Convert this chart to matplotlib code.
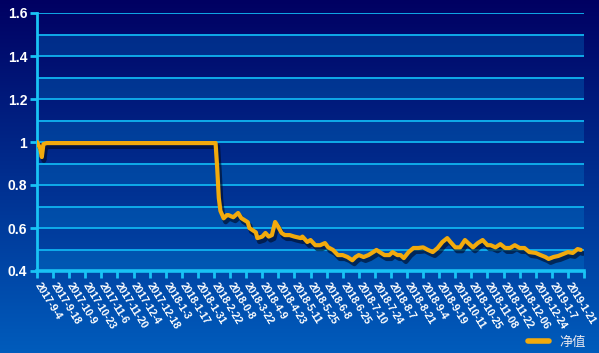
import numpy as np
import matplotlib
matplotlib.use("Agg")
import matplotlib.pyplot as plt
import matplotlib.patheffects as pe
from matplotlib.ticker import MultipleLocator, FuncFormatter, FixedLocator

# ---- data ----
day_idx = [0, 2, 3, 4, 6, 111, 112, 113, 114, 116, 118, 119, 122, 125, 127, 131, 132,
           136, 137, 140, 142, 144, 146, 148, 150, 152, 154, 157, 160, 164, 165, 168,
           170, 173, 176, 179, 181, 184, 187, 190, 193, 196, 198, 200, 203, 206, 209,
           211, 213, 216, 219, 221, 224, 226, 228, 231, 234, 237, 240, 243, 246, 249,
           252, 255, 257, 260, 263, 266, 268, 271, 274, 277, 280, 282, 285, 288, 291,
           294, 297, 300, 303, 306, 310, 313, 316, 318, 321, 324, 327, 330, 333, 336, 338]
nav = [1.0, 0.97, 0.93, 0.99, 0.995, 0.995, 0.88, 0.74, 0.68, 0.645, 0.66, 0.66, 0.65,
       0.67, 0.646, 0.627, 0.60, 0.58, 0.553, 0.56, 0.577, 0.56, 0.567, 0.628, 0.605,
       0.577, 0.567, 0.567, 0.56, 0.553, 0.56, 0.535, 0.544, 0.52, 0.52, 0.53, 0.51,
       0.498, 0.474, 0.474, 0.465, 0.45, 0.465, 0.474, 0.465, 0.474, 0.488, 0.498,
       0.488, 0.474, 0.474, 0.488, 0.474, 0.474, 0.46, 0.488, 0.507, 0.507, 0.51,
       0.498, 0.488, 0.507, 0.535, 0.553, 0.535, 0.51, 0.51, 0.544, 0.53, 0.51, 0.53,
       0.544, 0.52, 0.52, 0.51, 0.525, 0.507, 0.507, 0.52, 0.507, 0.507, 0.488, 0.484,
       0.474, 0.465, 0.456, 0.465, 0.47, 0.479, 0.488, 0.484, 0.502, 0.498]
x_labels = ["2017-9-4", "2017-9-18", "2017-10-9", "2017-10-23", "2017-11-6",
            "2017-11-20", "2017-12-4", "2017-12-18", "2018-1-3", "2018-1-17",
            "2018-1-31", "2018-2-22", "2018-0-8", "2018-3-22", "2018-4-9",
            "2018-4-23", "2018-5-11", "2018-5-25", "2018-6-8", "2018-6-25",
            "2018-7-10", "2018-7-24", "2018-8-7", "2018-8-21", "2018-9-4",
            "2018-9-19", "2018-10-11", "2018-10-25", "2018-11-08", "2018-11-22",
            "2018-12-06", "2018-12-24", "2019-1-7", "2019-1-21"]
label_step = 10
n_days = 340
series_name = "净值"

# ---- figure ----
W, H = 599, 353
fig = plt.figure(figsize=(W / 100, H / 100), dpi=100)

# background gradient
bg = fig.add_axes([0, 0, 1, 1], zorder=-10)
top = np.array([0x00, 0x00, 0x62]) / 255
bot = np.array([0x00, 0x5c, 0xbc]) / 255
t = np.linspace(0, 1, 256)[:, None]
grad = top[None, :] * (1 - t) + bot[None, :] * t
bg.imshow(grad[:, None, :], aspect="auto", extent=[0, 1, 0, 1])
bg.set_axis_off()

L, R, T, B = 37, 584, 13, 271
ax = fig.add_axes([L / W, 1 - B / H, (R - L) / W, (B - T) / H])
ax.set_facecolor("none")

ax.set_xlim(0, n_days)
ax.set_ylim(0.4, 1.6)

# alternating light bands
for lo in np.arange(0.4, 1.6, 0.2):
    ax.axhspan(lo, lo + 0.1, color=(0.0, 0.5, 0.82), alpha=0.3, lw=0, zorder=0)

# grid lines
for g in np.arange(0.5, 1.61, 0.1):
    ax.axhline(g, color="#10b4f0", lw=1.3, zorder=1)

# line
line, = ax.plot(day_idx, nav, color="#f2aa0c", lw=3.0, solid_joinstyle="round",
                solid_capstyle="round", zorder=5, label=series_name,
                path_effects=[pe.SimpleLineShadow(offset=(1.5, -2.5), shadow_color="#000820",
                                                  alpha=0.6, linewidth=3.6),
                              pe.Normal()])

# spines
for s in ["top", "right"]:
    ax.spines[s].set_visible(False)
ax.spines["left"].set_color("#19c3f5")
ax.spines["left"].set_linewidth(2)
ax.spines["bottom"].set_color("#19c3f5")
ax.spines["bottom"].set_linewidth(2.6)
ax.spines["bottom"].set_zorder(6)

ax.yaxis.set_major_locator(MultipleLocator(0.2))
ax.yaxis.set_major_formatter(FuncFormatter(lambda v, p: f"{v:g}"))
ax.tick_params(axis="y", colors="#19c3f5", length=5, width=2, pad=2)
for lab in ax.get_yticklabels():
    lab.set_color("white")
    lab.set_fontfamily("Liberation Sans")
    lab.set_fontweight("bold")
    lab.set_fontsize(10)

ax.xaxis.set_major_locator(FixedLocator(np.arange(0, n_days + 1, label_step)))
ax.set_xticklabels(x_labels + [""])
ax.tick_params(axis="x", colors="#19c3f5", length=5, width=2, pad=4)
for lab in ax.get_xticklabels():
    lab.set_color("white")
    lab.set_fontfamily("Liberation Sans")
    lab.set_fontweight("bold")
    lab.set_fontsize(7.6)
    lab.set_rotation(-58)
    lab.set_ha("left")
    lab.set_va("center")
    lab.set_rotation_mode("anchor")

leg = ax.legend(handles=[line], loc="center right", bbox_to_anchor=(0.978, 0.031),
                bbox_transform=fig.transFigure, frameon=False, handlelength=1.6,
                handletextpad=0.8, borderpad=0, borderaxespad=0,
                prop={"family": ["Noto Sans CJK SC", "DejaVu Sans"], "size": 9.5})
for txt in leg.get_texts():
    txt.set_color("#e8e8f0")
for h in leg.legend_handles:
    h.set_linewidth(4)
    h.set_path_effects([])

fig.savefig("out.png", dpi=100)
